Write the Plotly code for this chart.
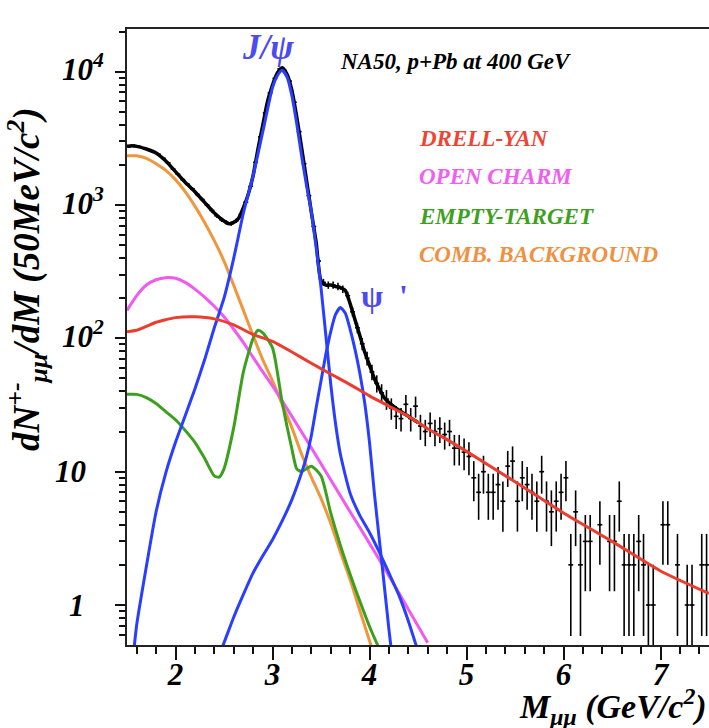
import numpy as np
import plotly.graph_objects as go

# ---------------- data ----------------
# Combinatorial background (orange)
comb_x = [1.5,1.6,1.7,1.8,1.9,2.0,2.1,2.2,2.3,2.4,2.5,2.6,2.7,2.8,2.9,3.0,3.1,3.2,3.3,3.4,3.5,3.6,3.7,3.8,3.9,4.0,4.1]
comb_y = [2340,2340,2240,2040,1820,1550,1260,980,740,540,380,250,162,105,69,48,32,21.4,13.5,9.1,6.3,4.1,2.5,1.55,0.91,0.54,0.32]

# Drell-Yan (red)
dy_x = [1.5,1.6,1.7,1.8,1.9,2.0,2.2,2.4,2.6,2.8,3.0,3.2,3.4,3.6,3.8,4.0,4.2,4.4,4.6,4.8,5.0,5.5,6.0,6.5,7.0,7.5]
dy_y = [112,115,123,132,138,143,145,140,126,107,95,79,65,54,45,37,31,26,21,17.4,14.2,8.4,4.9,3.0,1.8,1.22]

# Open charm (magenta)
oc_x = [1.5,1.6,1.7,1.8,1.9,2.0,2.1,2.2,2.3,2.4,2.5,2.6,2.7,2.8,2.9,3.0,3.2,3.4,3.6,3.8,4.0,4.2,4.4,4.6]
oc_y = [162,209,251,275,285,282,263,234,204,174,145,117,93,72,56,44,26,15.1,8.7,5.0,2.9,1.66,0.93,0.52]

# Empty target (green)
et_x = [1.5,1.6,1.7,1.8,1.9,2.0,2.1,2.2,2.3,2.4,2.45,2.5,2.6,2.7,2.8,2.85,2.9,3.0,3.1,3.2,3.25,3.3,3.4,3.5,3.6,3.7,3.8,3.9,4.0,4.1]
et_y = [38,38,35.9,32.4,28.2,24.5,20.4,16.6,12.6,9.3,9.1,10.5,21.4,56,100,115,110,85,33,14.8,10.5,10.0,11.0,9.3,4.9,2.8,1.7,1.07,0.69,0.47]

# J/psi (blue)
jpsi_x = [1.57,1.6,1.7,1.8,1.9,2.0,2.1,2.2,2.3,2.4,2.5,2.6,2.7,2.8,2.9,3.0,3.05,3.1,3.15,3.2,3.25,3.3,3.35,3.4,3.45,3.5,3.55,3.6,3.65,3.7,3.8,3.9,4.0,4.1,4.2,4.3,4.4,4.5]
jpsi_y = [0.45,0.71,1.95,5.0,9.8,16.6,26.3,41.7,69,120,200,398,871,1660,3550,7590,9330,10230,9120,6610,4070,2340,1410,891,479,240,105,45.7,22.9,13.5,6.9,4.7,3.5,2.5,1.74,1.20,0.76,0.45]

# psi' (blue)
psip_x = [2.45,2.5,2.6,2.7,2.8,2.9,3.0,3.1,3.2,3.3,3.35,3.4,3.45,3.5,3.55,3.6,3.65,3.7,3.75,3.8,3.85,3.9,3.95,4.0,4.05,4.1,4.15,4.2,4.25]
psip_y = [0.42,0.52,0.81,1.20,1.74,2.34,3.09,4.27,6.17,9.8,12.9,18.6,30.2,47.9,75.9,112,151,170,155,117,83,55,33,16.6,6.9,3.16,1.45,0.66,0.32]

# Total fit (black)
tot_x = [1.5,1.55,1.6,1.7,1.8,1.9,2.0,2.1,2.2,2.3,2.4,2.5,2.55,2.6,2.65,2.7,2.75,2.8,2.85,2.9,2.95,3.0,3.05,3.1,3.15,3.2,3.25,3.3,3.35,3.4,3.45,3.5,3.55,3.6,3.65,3.7,3.75,3.8,3.85,3.9,3.95,4.0,4.05,4.1,4.15,4.2,4.3,4.4,4.5]
tot_y = [2754,2786,2754,2630,2455,2138,1778,1479,1259,1047,871,759,724,741,794,955,1202,1660,2630,3981,6026,7943,9772,10715,9550,7244,4571,2692,1549,891,525,269,251,251,245,240,229,182,138,105,79,63,50,42,36,33,29,26,23.4]

# Measured counts per 50 MeV bin (bins 1.525 ... 7.475 GeV), None = empty bin
data_counts = [2750,2790,2750,2660,2600,2510,2400,2240,2070,1860,
               1700,1550,1430,1320,1200,1100,1000,910,830,775,
               740,725,760,850,1050,1380,2090,3240,4900,6920,
               8900,10500,10200,8500,5900,3550,2040,1175,690,380,
               263,251,251,245,234,209,158,120,91,71,
               56,46,39,35,
               30,26,25,32,25,31,
               22,20,23,20,21,19,20,15,15,14,
               13,9,7,10,7,7,8,6,11,12,
               6,9,8,7,6,
               10,6,5,6,7,9,2,5,2,3,
               3,None,4,None,3,3,6,2,2,2,
               3,2,1,1,None,4,4,None,2,None,
               1,1,None,2,2]
bin_x = [round(1.525 + 0.05 * i, 3) for i in range(len(data_counts))]

x_ticks = [2, 3, 4, 5, 6, 7]
y_tickvals = [1, 10, 100, 1000, 10000]
y_ticktext = ["1", "10", "10<sup>2</sup>", "10<sup>3</sup>", "10<sup>4</sup>"]

# ---------------- styling ----------------
FONT = "Liberation Serif"
C_RED = "#eb3c2d"
C_MAG = "#f05af0"
C_GRN = "#3ca01e"
C_ORG = "#f0963c"
C_BLU = "#2a3eff"

fig = go.Figure()

dx, dy, ep, em = [], [], [], []
for x, n in zip(bin_x, data_counts):
    if n is None:
        continue
    dx.append(x)
    dy.append(n)
    e = float(np.sqrt(n))
    ep.append(e)
    em.append(min(e, n * 0.995))

fig.add_trace(go.Scatter(
    x=tot_x, y=tot_y, mode="lines", line=dict(color="black", width=3.5, shape="spline", smoothing=0.6),
    hoverinfo="skip", showlegend=False))
fig.add_trace(go.Scatter(
    x=dx, y=dy, mode="markers", marker=dict(size=2, color="black"),
    error_y=dict(type="data", array=ep, arrayminus=em, symmetric=False, thickness=1.6, width=0, color="black"),
    error_x=dict(type="constant", value=0.025, thickness=1.6, width=0, color="black"),
    showlegend=False))

for xs, ys, col in [(comb_x, comb_y, C_ORG), (oc_x, oc_y, C_MAG), (et_x, et_y, C_GRN),
                    (jpsi_x, jpsi_y, C_BLU), (psip_x, psip_y, C_BLU), (dy_x, dy_y, C_RED)]:
    fig.add_trace(go.Scatter(x=xs, y=ys, mode="lines",
                             line=dict(color=col, width=3, shape="spline", smoothing=0.6),
                             showlegend=False))

minor_y = [m * 10 ** k for k in range(-1, 5) for m in range(2, 10)]

TICKFONT = dict(family=FONT, size=31, color="black", weight="bold", style="italic")

fig.update_layout(
    width=709, height=728,
    margin=dict(l=127, r=0, t=29, b=83),
    paper_bgcolor="white", plot_bgcolor="white",
    showlegend=False,
    xaxis=dict(range=[1.5, 7.5], tickmode="array", tickvals=x_ticks,
               ticks="outside", ticklen=13, tickwidth=2, tickcolor="#111",
               showline=True, linewidth=2, linecolor="#222", mirror=True,
               showgrid=False, zeroline=False, ticklabelstandoff=-12,
               tickfont=TICKFONT,
               minor=dict(dtick=0.2, tick0=0, ticks="outside", ticklen=7, tickwidth=1.5, tickcolor="#111", showgrid=False)),
    yaxis=dict(type="log", range=[-0.30, 4.32], tickmode="array", tickvals=y_tickvals,
               showticklabels=False,
               ticks="outside", ticklen=10, tickwidth=2, tickcolor="#111",
               showline=True, linewidth=2, linecolor="#222", mirror=False,
               showgrid=False, zeroline=False,
               minor=dict(tickmode="array", tickvals=minor_y, ticks="outside", ticklen=6, tickwidth=1.5, tickcolor="#111", showgrid=False)),
)

def txt(x, y, s, size, color, xanchor="center", xref="x", yref="y", angle=0, italic=True, yshift=0):
    fig.add_annotation(x=x, y=y, xref=xref, yref=yref, text=s, showarrow=False,
                       xanchor=xanchor, yanchor="middle", textangle=angle, yshift=yshift,
                       font=dict(family=FONT, size=size, color=color, weight="bold",
                                 style="italic" if italic else "normal"))

# y tick labels (placed like the original, aligned on the "10")
for v, t in zip(y_tickvals, y_ticktext):
    lv = float(np.log10(v))
    if t == "1":
        txt(-0.069, lv, t, 31, "black", xanchor="right", xref="paper")
    elif t == "10":
        txt(-0.067, lv, t, 31, "black", xanchor="right", xref="paper")
    else:
        txt(-0.036, lv, t, 31, "black", xanchor="right", xref="paper", yshift=4)

txt(2.95, 4.185, "J/ψ", 35, "#4b4bf0")
txt(4.15, 2.317, "ψ  '", 32, "#4b4bf0", italic=False)
txt(4.885, 4.08, "NA50, p+Pb at 400 GeV", 23, "black")
txt(4.494, 3.499, "DRELL-YAN", 23, "#ee4433", xanchor="left")
txt(4.494, 3.214, "OPEN CHARM", 23, "#f060f0", xanchor="left")
txt(4.494, 2.914, "EMPTY-TARGET", 23, "#3ea020", xanchor="left")
txt(4.494, 2.632, "COMB. BACKGROUND", 23, "#f09040", xanchor="left")

txt(1.0, -0.1, "M<sub>μμ</sub> (GeV/c<sup>2</sup>)", 34, "black", xanchor="right", xref="paper", yref="paper")
txt(-0.172, 0.594, "dN<sup>+-</sup><sub>μμ</sub>/dM (50MeV/c<sup>2</sup>)", 37, "black", xref="paper", yref="paper", angle=-90)

fig.write_html("out.html", config={"displayModeBar": False},
               post_script="document.body.style.margin='0px';")
